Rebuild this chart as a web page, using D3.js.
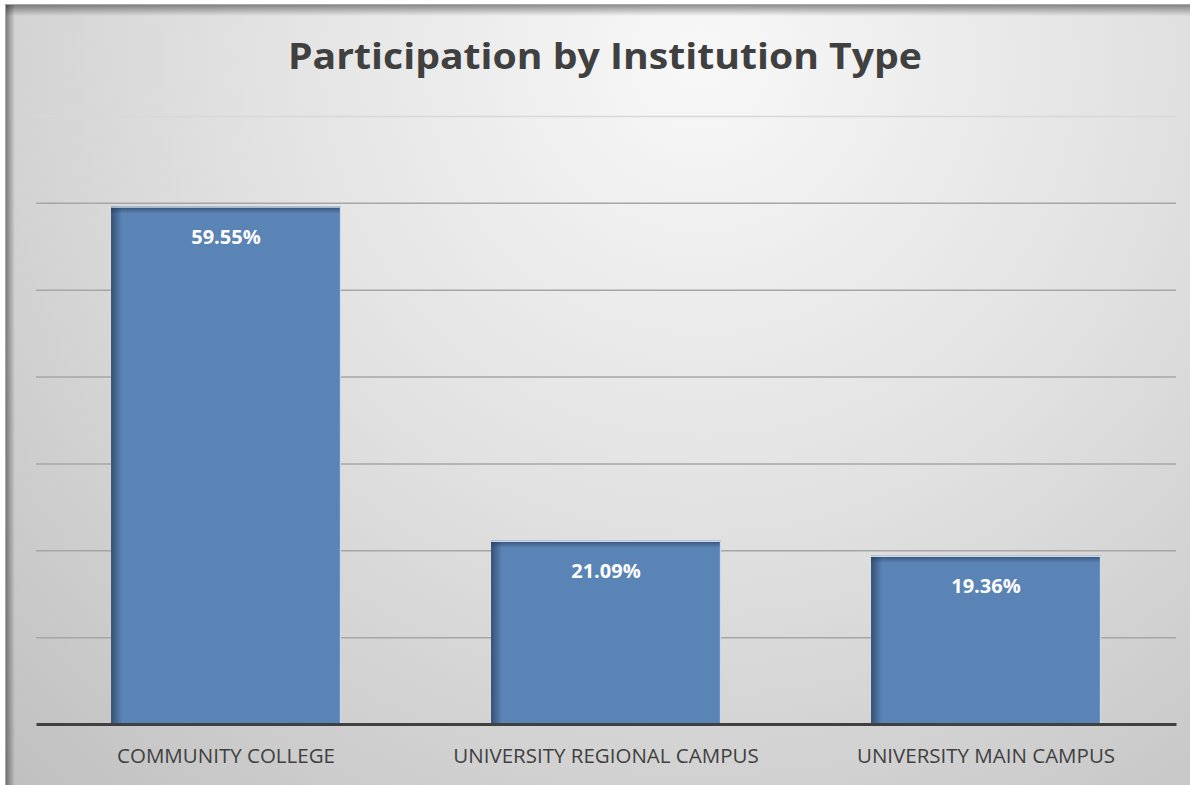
<!DOCTYPE html>
<html>
<head>
<meta charset="utf-8">
<script src="https://cdn.jsdelivr.net/npm/d3@7"></script>
<style>
  html, body { margin: 0; padding: 0; background: #fff; }
  svg { display: block; }
</style>
</head>
<body>
<svg id="chart" width="1190" height="785"></svg>
<script>
// chart data
const categories = ['COMMUNITY COLLEGE', 'UNIVERSITY REGIONAL CAMPUS', 'UNIVERSITY MAIN CAMPUS'];
const values = [59.55, 21.09, 19.36];
const gridTicks = [0, 10, 20, 30, 40, 50, 60, 70];
const title = 'Participation by Institution Type';

const W = 1190, H = 785;
const margin = {left: 36, right: 14, top: 116, bottom: 60};

var svg = d3.select('#chart');
var defs = svg.append('defs');

// background: soft radial light from top-centre
var bg = defs.append('radialGradient')
    .attr('id', 'bg')
    .attr('gradientUnits', 'userSpaceOnUse')
    .attr('cx', 700).attr('cy', 60).attr('r', 1000);
bg.append('stop').attr('offset', '0%').attr('stop-color', '#f8f8f8');
bg.append('stop').attr('offset', '45%').attr('stop-color', '#e2e2e2');
bg.append('stop').attr('offset', '100%').attr('stop-color', '#c0c0c0');

// inner shadow of frame
var shL = defs.append('linearGradient').attr('id', 'shL').attr('x1', 0).attr('x2', 1).attr('y1', 0).attr('y2', 0);
shL.append('stop').attr('offset', '0%').attr('stop-color', '#000').attr('stop-opacity', 0.45);
shL.append('stop').attr('offset', '100%').attr('stop-color', '#000').attr('stop-opacity', 0);
var shT = defs.append('linearGradient').attr('id', 'shT').attr('x1', 0).attr('x2', 0).attr('y1', 0).attr('y2', 1);
shT.append('stop').attr('offset', '0%').attr('stop-color', '#000').attr('stop-opacity', 0.45);
shT.append('stop').attr('offset', '100%').attr('stop-color', '#000').attr('stop-opacity', 0);

// bar inner shadows
var bL = defs.append('linearGradient').attr('id', 'bL').attr('x1', 0).attr('x2', 1).attr('y1', 0).attr('y2', 0);
bL.append('stop').attr('offset', '0%').attr('stop-color', '#1c2f4a').attr('stop-opacity', 0.6);
bL.append('stop').attr('offset', '100%').attr('stop-color', '#1c2f4a').attr('stop-opacity', 0);
var bT = defs.append('linearGradient').attr('id', 'bT').attr('x1', 0).attr('x2', 0).attr('y1', 0).attr('y2', 1);
bT.append('stop').attr('offset', '0%').attr('stop-color', '#1c2f4a').attr('stop-opacity', 0.6);
bT.append('stop').attr('offset', '100%').attr('stop-color', '#1c2f4a').attr('stop-opacity', 0);

svg.append('rect').attr('x', 5).attr('y', 4).attr('width', W - 5).attr('height', H - 4)
    .attr('fill', 'url(#bg)');
svg.append('rect').attr('x', 5).attr('y', 4).attr('width', 10).attr('height', H - 4).attr('fill', 'url(#shL)');
svg.append('rect').attr('x', 5).attr('y', 4).attr('width', W - 5).attr('height', 12).attr('fill', 'url(#shT)');
svg.append('path').attr('d', `M5.5,${H} V4.5 H${W}`).attr('fill', 'none').attr('stroke', '#a8a8a8');

// title
svg.append('text')
    .attr('x', 605).attr('y', 69)
    .attr('text-anchor', 'middle')
    .attr('font-family', 'Open Sans, sans-serif')
    .attr('font-weight', 'bold')
    .attr('font-size', 36)
    .attr('textLength', 634)
    .attr('lengthAdjust', 'spacingAndGlyphs')
    .attr('fill', '#404040')
    .text(title);

var x = d3.scaleBand()
    .domain(categories)
    .range([margin.left, W - margin.right])
    .paddingInner(0.395)
    .paddingOuter(0.1975);

var y = d3.scaleLinear()
    .domain([0, 70])
    .range([H - margin.bottom - 1, margin.top]);

// gridlines
svg.append('g').attr('class', 'grid')
    .attr('transform', `translate(${margin.left},0)`)
    .call(d3.axisLeft(y).tickValues(gridTicks.slice(1)).tickSize(-(W - margin.left - margin.right)).tickFormat(''))
    .call(g => g.select('.domain').remove())
    .call(g => g.selectAll('line')
        .attr('stroke', d => d === 70 ? '#d8d8d8' : '#a6a6a6')
        .attr('stroke-width', 1.5));

// bars
var bars = svg.append('g').selectAll('g')
    .data(values).enter().append('g')
    .attr('transform', (d, i) => `translate(${x(categories[i])},${y(d)})`);

bars.append('rect')
    .attr('width', x.bandwidth())
    .attr('height', d => y(0) - y(d))
    .attr('fill', '#5b84b6');
bars.append('rect')
    .attr('width', 11)
    .attr('height', d => y(0) - y(d))
    .attr('fill', 'url(#bL)');
bars.append('rect')
    .attr('width', x.bandwidth())
    .attr('height', 7)
    .attr('fill', 'url(#bT)');
bars.append('path')
    .attr('d', d => `M0,0.5 H${x.bandwidth() - 0.5} V${y(0) - y(d)}`)
    .attr('fill', 'none')
    .attr('stroke', '#c9d8ec')
    .attr('stroke-width', 1.2);

bars.append('text')
    .attr('x', x.bandwidth() / 2)
    .attr('y', 37)
    .attr('text-anchor', 'middle')
    .attr('font-family', 'Open Sans, sans-serif')
    .attr('font-weight', 'bold')
    .attr('font-size', 20)
    .attr('fill', '#ffffff')
    .text(d => d.toFixed(2) + '%');

// baseline + category axis
svg.append('g')
    .attr('transform', `translate(0,${y(0)})`)
    .call(d3.axisBottom(x).tickSize(0).tickPadding(24))
    .call(g => g.select('.domain').attr('stroke', '#404040').attr('stroke-width', 3))
    .call(g => g.selectAll('text')
        .attr('font-family', 'Open Sans, sans-serif')
        .attr('font-size', 20.5)
        .attr('fill', '#404040'));
</script>
</body>
</html>
